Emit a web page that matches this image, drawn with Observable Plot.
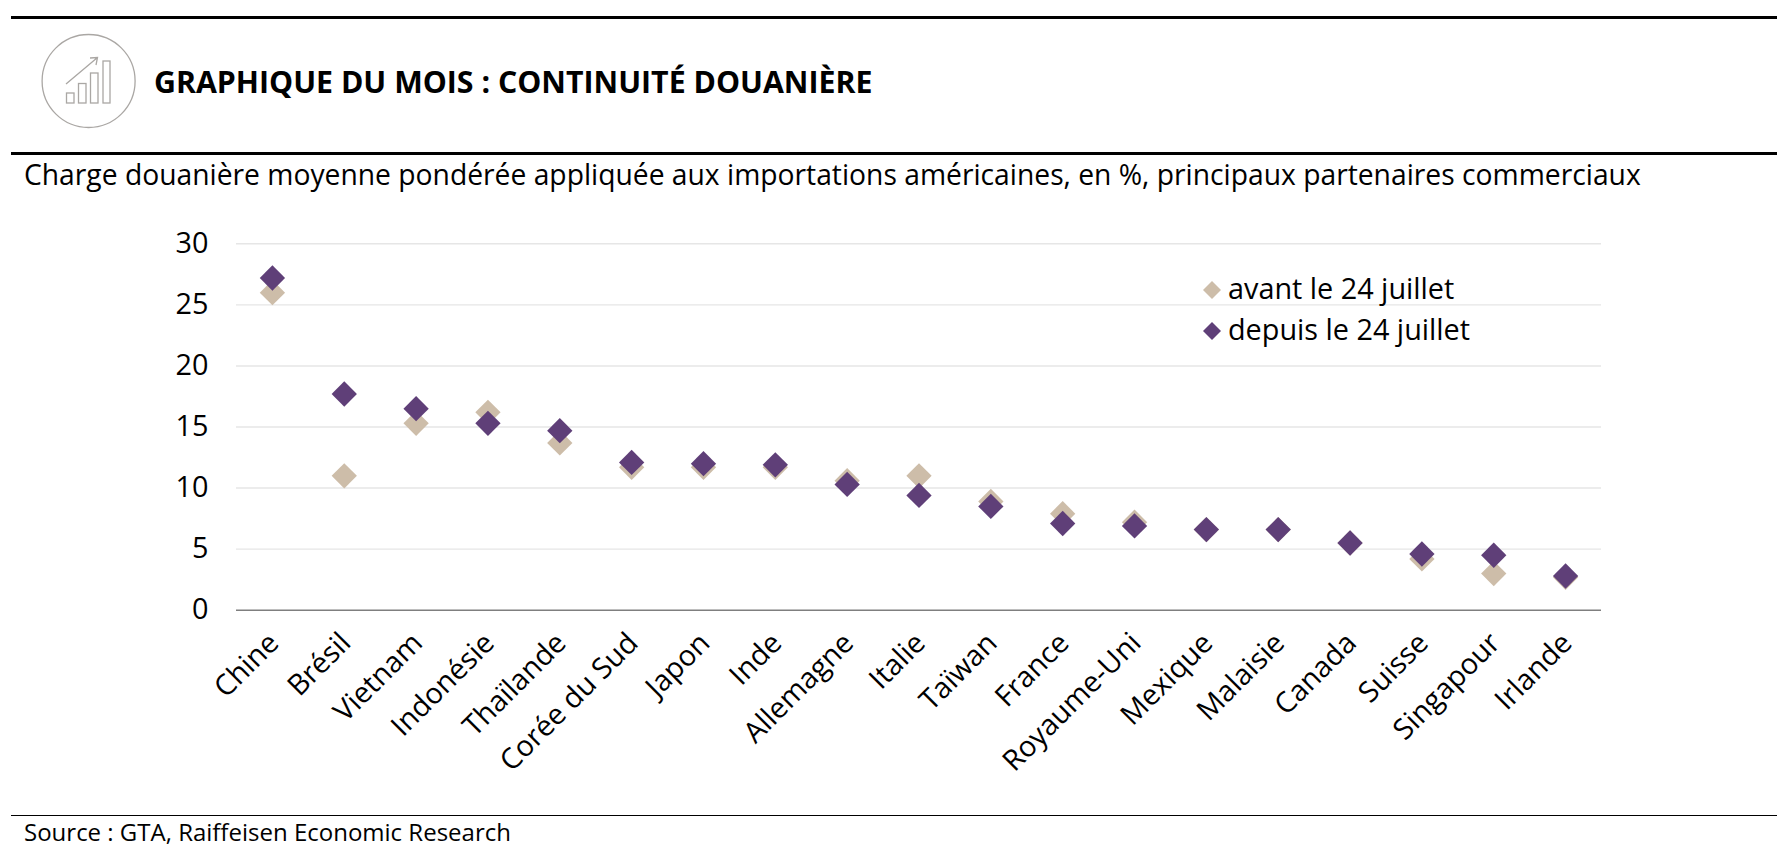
<!DOCTYPE html>
<html lang="fr"><head><meta charset="utf-8">
<script src="https://cdn.jsdelivr.net/npm/d3@7"></script>
<script src="https://cdn.jsdelivr.net/npm/@observablehq/plot@0.6"></script>
<style>
html,body{margin:0;padding:0;background:#fff;width:1777px;height:860px;overflow:hidden}
body{position:relative;font-family:"Open Sans",sans-serif;color:#000}
.rule{position:absolute;left:11px;right:0;background:#000}
.t{position:absolute;white-space:nowrap;line-height:1}
#chart{position:absolute;left:0;top:0}
.leg{position:absolute;width:18px;height:18px;clip-path:polygon(50% 0,100% 50%,50% 100%,0 50%)}
</style></head><body>
<div id="chart"></div>
<div class="rule" style="top:16px;height:3px"></div>
<div class="rule" style="top:152px;height:3px"></div>
<div class="rule" style="top:815px;height:1px"></div>
<svg style="position:absolute;left:0;top:0" width="160" height="140" fill="none" stroke="#aaa7a4" stroke-width="1.3">
<circle cx="88.6" cy="81" r="46.5"/>
<rect x="66.5" y="93" width="7.5" height="10"/><rect x="78.5" y="83.5" width="7.5" height="19.5"/><rect x="90.5" y="73" width="7.5" height="30"/><rect x="103" y="61" width="7" height="42"/>
<path d="M66 84 L97.5 57.5 M90 58 L97.5 57.5 L96 65"/>
</svg>
<div class="t" id="title" style="left:154px;top:67px;font-size:30.3px;font-weight:700">GRAPHIQUE DU MOIS : CONTINUITÉ DOUANIÈRE</div>
<div class="t" id="sub" style="left:24px;top:160px;font-size:28.25px">Charge douanière moyenne pondérée appliquée aux importations américaines, en %, principaux partenaires commerciaux</div>
<div class="leg" style="left:1203px;top:281px;background:#cdbda9"></div>
<div class="t" style="left:1228px;top:274px;font-size:28.8px">avant le 24 juillet</div>
<div class="leg" style="left:1203px;top:322px;background:#5f3f78"></div>
<div class="t" style="left:1228px;top:315px;font-size:28.8px">depuis le 24 juillet</div>
<div class="t" style="left:24px;top:820px;font-size:24px">Source : GTA, Raiffeisen Economic Research</div>
<script>
const countries = ["Chine","Brésil","Vietnam","Indonésie","Thaïlande","Corée du Sud","Japon","Inde","Allemagne","Italie","Taïwan","France","Royaume-Uni","Mexique","Malaisie","Canada","Suisse","Singapour","Irlande"];
const avant = [26,11,15.3,16.2,13.7,11.7,11.7,11.7,10.6,11,8.9,7.9,7.2,6.6,6.6,5.5,4.2,3,2.7];
const depuis = [27.2,17.7,16.5,15.3,14.7,12.1,12,11.9,10.3,9.4,8.5,7.1,6.9,6.6,6.6,5.5,4.6,4.5,2.8];
const yTicks = [0,5,10,15,20,25,30];
const rowsAvant = countries.map((c,i)=>({c,v:avant[i]}));
const rowsDepuis = countries.map((c,i)=>({c,v:depuis[i]}));
const plot = Plot.plot({
  width:1777,height:860,
  marginLeft:236,marginRight:176,marginTop:243.3,marginBottom:250.3,
  style:{fontFamily:'"Open Sans",sans-serif',fontSize:"28.8px",color:"#000",background:"transparent",overflow:"visible"},
  x:{type:"band",domain:countries,padding:0,round:false,label:null},
  y:{domain:[0,30],ticks:yTicks,label:null},
  marks:[
    Plot.ruleY(yTicks.filter(d=>d>0),{stroke:"#e6e6e6",strokeWidth:1.4}),
    Plot.ruleY([0],{stroke:"#7f7f7f",strokeWidth:1.6}),
    Plot.axisY({ticks:yTicks,tickSize:0,tickPadding:28,label:null,fontSize:28.8}),
    Plot.axisX({tickSize:0,tickRotate:-45,tickPadding:28,dx:1.5,label:null,fontSize:28.8,textAnchor:"end"}),
    Plot.dot(rowsAvant,{x:"c",y:"v",symbol:"diamond2",r:11.4,fill:"#cdbda9"}),
    Plot.dot(rowsDepuis,{x:"c",y:"v",symbol:"diamond2",r:11.4,fill:"#5f3f78"})
  ]
});
document.getElementById("chart").appendChild(plot);
</script>
</body></html>
